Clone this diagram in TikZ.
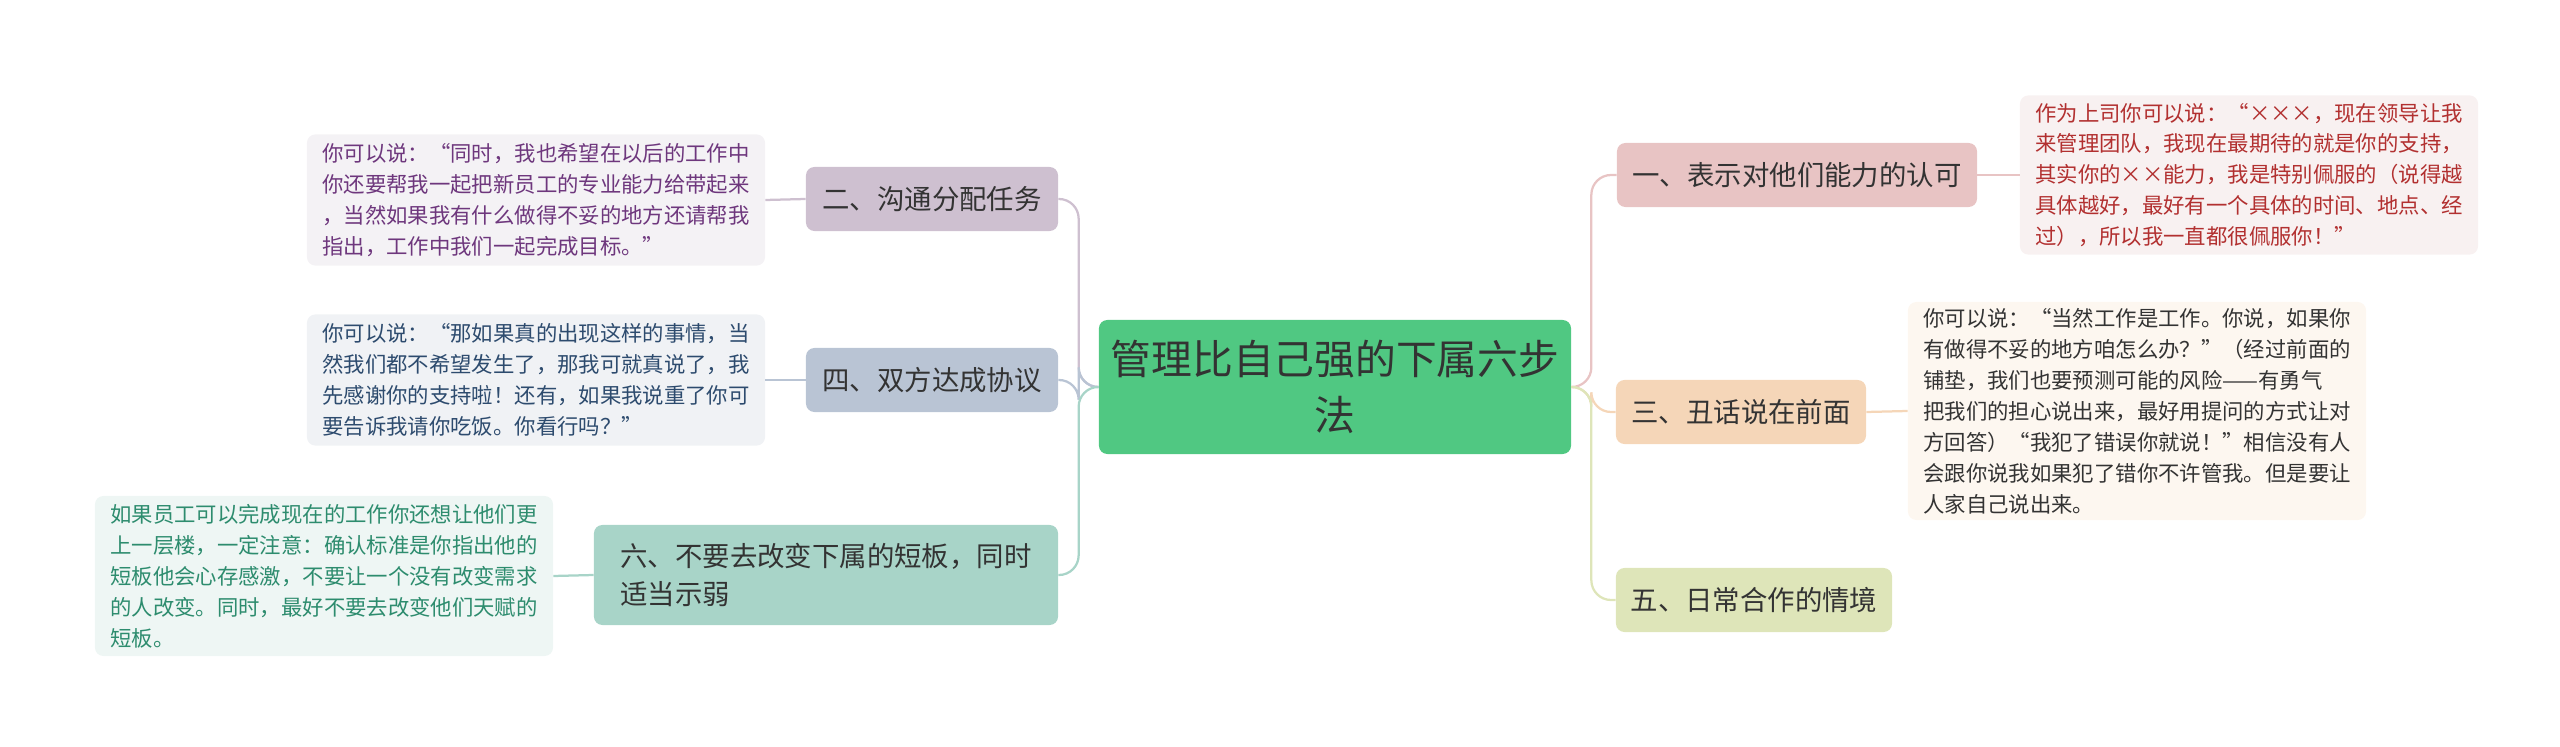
\documentclass[tikz,border=0pt]{standalone}
\usepackage{fontspec}
\setmainfont{Noto Sans CJK SC}
\usetikzlibrary{calc}
\definecolor{rootc}{RGB}{80,200,130}
\definecolor{c1}{RGB}{232,196,196}
\definecolor{c3}{RGB}{245,214,184}
\definecolor{c5}{RGB}{222,229,185}
\definecolor{c2}{RGB}{206,192,208}
\definecolor{c4}{RGB}{185,196,212}
\definecolor{c6}{RGB}{168,212,200}
\definecolor{f1}{RGB}{248,241,241}
\definecolor{f3}{RGB}{253,247,240}
\definecolor{f2}{RGB}{244,242,245}
\definecolor{f4}{RGB}{240,242,245}
\definecolor{f6}{RGB}{238,246,244}
\definecolor{t1c}{RGB}{178,48,48}
\definecolor{t2c}{RGB}{110,55,125}
\definecolor{t4c}{RGB}{45,75,110}
\definecolor{t6c}{RGB}{45,140,110}
\tikzset{
      topic/.style={
          rectangle,
          rounded corners=6pt,
          fill=#1,
          text=black!80,
          font=\fontsize{19.5}{27}\selectfont,
          align=left,
          inner sep=0pt,
          minimum height=1.6cm
      },
      leaf/.style={
          rectangle,
          rounded corners=6pt,
          inner sep=0pt,
          align=left,
          font=\fontsize{15.2}{22}\selectfont
      },
      link/.style={line width=1.6pt, rounded corners=14pt}
  }

\begin{document}
\begin{tikzpicture}[x=0.025cm, y=-0.025cm]
    \useasboundingbox (0,0) rectangle (2560,747);
    
    \node [topic=rootc, minimum width=11.8cm, minimum height=3.35cm, align=center, font=\fontsize{29}{40}\selectfont] (root) at (1335,387) {管理比自己强的下属六步\\法};
    
    \node [topic=c1, minimum width=9cm] (t1) at (1797,175) {一、表示对他们能力的认可};
    \node [topic=c3, minimum width=6.25cm] (t3) at (1741,412) {三、丑话说在前面};
    \node [topic=c5, minimum width=6.9cm] (t5) at (1754,600) {五、日常合作的情境};
    \node [topic=c2, minimum width=6.3cm] (t2) at (932,199) {二、沟通分配任务};
    \node [topic=c4, minimum width=6.3cm] (t4) at (932,380) {四、双方达成协议};
    \node [topic=c6, minimum width=11.6cm, minimum height=2.5cm] (t6) at (826,575) {六、不要去改变下属的短板，同时\\适当示弱};
    
    \node [leaf, fill=f1, text=t1c, minimum width=11.45cm, minimum height=3.98cm] (l1) at (2249,175) {作为上司你可以说：“×××，现在领导让我\\来管理团队，我现在最期待的就是你的支持，\\其实你的××能力，我是特别佩服的（说得越\\具体越好，最好有一个具体的时间、地点、经\\过），所以我一直都很佩服你！”};
    \node [leaf, fill=f3, text=black!80, minimum width=11.45cm, minimum height=5.45cm] (l3) at (2137,411) {你可以说：“当然工作是工作。你说，如果你\\有做得不妥的地方咱怎么办？”（经过前面的\\铺垫，我们也要预测可能的风险——有勇气\\把我们的担心说出来，最好用提问的方式让对\\方回答）“我犯了错误你就说！”相信没有人\\会跟你说我如果犯了错你不许管我。但是要让\\人家自己说出来。};
    \node [leaf, fill=f2, text=t2c, minimum width=11.45cm, minimum height=3.28cm] (l2) at (536,200) {你可以说：“同时，我也希望在以后的工作中\\你还要帮我一起把新员工的专业能力给带起来\\，当然如果我有什么做得不妥的地方还请帮我\\指出，工作中我们一起完成目标。”};
    \node [leaf, fill=f4, text=t4c, minimum width=11.45cm, minimum height=3.28cm] (l4) at (536,380) {你可以说：“那如果真的出现这样的事情，当\\然我们都不希望发生了，那我可就真说了，我\\先感谢你的支持啦！还有，如果我说重了你可\\要告诉我请你吃饭。你看行吗？”};
    \node [leaf, fill=f6, text=t6c, minimum width=11.45cm, minimum height=4cm] (l6) at (324,576) {如果员工可以完成现在的工作你还想让他们更\\上一层楼，一定注意：确认标准是你指出他的\\短板他会心存感激，不要让一个没有改变需求\\的人改变。同时，最好不要去改变他们天赋的\\短板。};
    
    \draw[link, c1] (root.east) -- ++(20,0) |- (t1.west);
    \draw[link, c3] (root.east) -- ++(20,0) |- (t3.west);
    \draw[link, c5] (root.east) -- ++(20,0) |- (t5.west);
    \draw[link, c2] (root.west) -- ++(-20,0) |- (t2.east);
    \draw[link, c4] (root.west) -- ++(-20,0) |- (t4.east);
    \draw[link, c6] (root.west) -- ++(-20,0) |- (t6.east);
    
    \draw[line width=1.6pt, c1] (t1.east) -- (l1.west);
    \draw[line width=1.6pt, c3] (t3.east) -- (l3.west);
    \draw[line width=1.6pt, c2] (t2.west) -- (l2.east);
    \draw[line width=1.6pt, c4] (t4.west) -- (l4.east);
    \draw[line width=1.6pt, c6] (t6.west) -- (l6.east);
    \end{tikzpicture}
\end{document}
